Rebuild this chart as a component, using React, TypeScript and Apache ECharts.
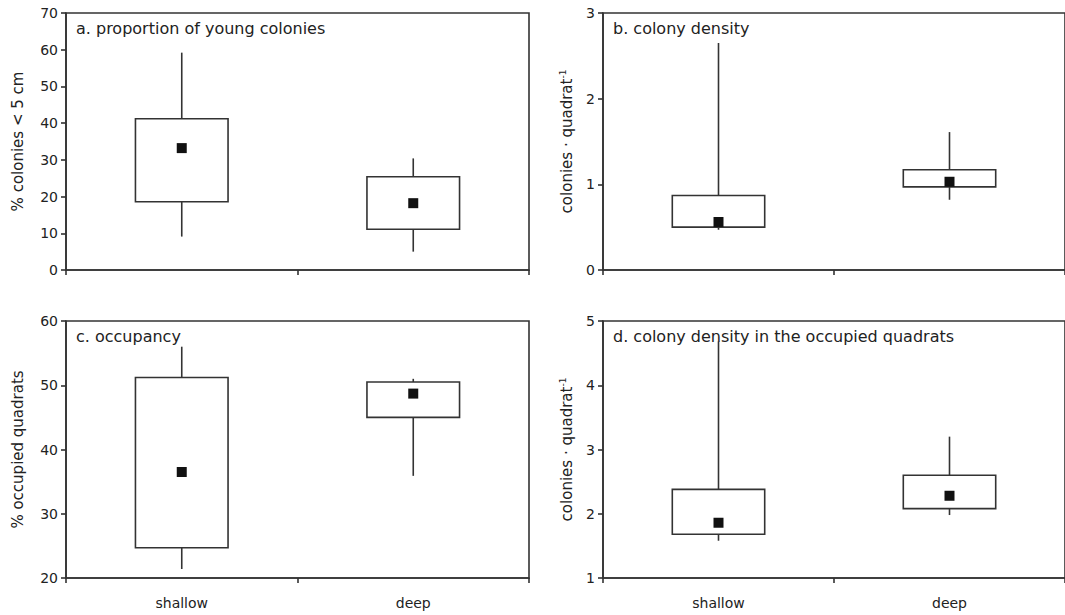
import React, { useEffect, useRef } from "react";
import * as echarts from "echarts";

// Depth groups shared by all four panels
const CATEGORIES = ["shallow", "deep"];

// Box values per group: [min, q1, q3, max]; means drawn as filled squares
const youngBox = [
  [9.1, 18.6, 41.2, 59.2],
  [5.0, 11.1, 25.4, 30.4],
];
const youngMean = [33.2, 18.2];

const densityBox = [
  [0.47, 0.5, 0.87, 2.65],
  [0.82, 0.97, 1.17, 1.61],
];
const densityMean = [0.56, 1.03];

const occupancyBox = [
  [21.4, 24.7, 51.2, 56.0],
  [35.9, 45.0, 50.5, 51.0],
];
const occupancyMean = [36.5, 48.7];

const occupiedDensityBox = [
  [1.58, 1.68, 2.38, 4.68],
  [1.98, 2.08, 2.6, 3.2],
];
const occupiedDensityMean = [1.86, 2.28];

// Axis ranges [min, max, interval]
const youngRange = [0, 70, 10];
const densityRange = [0, 3, 1];
const occupancyRange = [20, 60, 10];
const occupiedDensityRange = [1, 5, 1];

const FONT = "DejaVu Sans";
const INK = "#222";
const LINE = "#333";

const panels = [
  {
    title: "a. proportion of young colonies",
    yName: "% colonies < 5 cm",
    box: youngBox,
    mean: youngMean,
    range: youngRange,
    grid: { left: 66, top: 13, width: 463, height: 257 },
    nameGap: 41,
    xLabels: false,
  },
  {
    title: "b. colony density",
    yName: "{n|colonies · quadrat}{s|-1}",
    box: densityBox,
    mean: densityMean,
    range: densityRange,
    grid: { left: 603, top: 13, width: 463, height: 257 },
    nameGap: 27,
    xLabels: false,
  },
  {
    title: "c. occupancy",
    yName: "% occupied quadrats",
    box: occupancyBox,
    mean: occupancyMean,
    range: occupancyRange,
    grid: { left: 66, top: 321, width: 463, height: 257 },
    nameGap: 41,
    xLabels: true,
  },
  {
    title: "d. colony density in the occupied quadrats",
    yName: "{n|colonies · quadrat}{s|-1}",
    box: occupiedDensityBox,
    mean: occupiedDensityMean,
    range: occupiedDensityRange,
    grid: { left: 603, top: 321, width: 463, height: 257 },
    nameGap: 27,
    xLabels: true,
  },
];

function renderBox(params: any, api: any) {
  const idx = api.value(0);
  const min = api.coord([idx, api.value(1)]);
  const q1 = api.coord([idx, api.value(2)]);
  const q3 = api.coord([idx, api.value(3)]);
  const max = api.coord([idx, api.value(4)]);
  const band = api.size([1, 0])[0];
  const w = band * 0.4;
  const x = min[0];
  const lineStyle = { stroke: LINE, lineWidth: 1.6 };
  return {
    type: "group",
    children: [
      {
        type: "line",
        shape: { x1: x, y1: max[1], x2: x, y2: q3[1] },
        style: lineStyle,
      },
      {
        type: "line",
        shape: { x1: x, y1: q1[1], x2: x, y2: min[1] },
        style: lineStyle,
      },
      {
        type: "rect",
        shape: { x: x - w / 2, y: q3[1], width: w, height: q1[1] - q3[1] },
        style: { fill: "#fff", stroke: LINE, lineWidth: 1.6 },
      },
    ],
  };
}

export default function App() {
  const ref = useRef<HTMLDivElement>(null);

  useEffect(() => {
    if (!ref.current) return;
    const chart = echarts.init(ref.current, null, { renderer: "svg" });

    const grids: any[] = [];
    const xAxes: any[] = [];
    const yAxes: any[] = [];
    const series: any[] = [];
    const graphics: any[] = [];

    panels.forEach((p, i) => {
      grids.push({
        ...p.grid,
        show: true,
        borderColor: LINE,
        borderWidth: 1.6,
        backgroundColor: "transparent",
        containLabel: false,
      });
      xAxes.push({
        type: "category",
        gridIndex: i,
        data: CATEGORIES,
        boundaryGap: true,
        axisLine: { lineStyle: { color: LINE, width: 1.6 } },
        axisTick: { show: true, length: 5, lineStyle: { color: LINE, width: 1.6 } },
        axisLabel: {
          show: p.xLabels,
          color: INK,
          fontFamily: FONT,
          fontSize: 14,
          margin: 18,
        },
        splitLine: { show: false },
      });
      yAxes.push({
        type: "value",
        gridIndex: i,
        min: p.range[0],
        max: p.range[1],
        interval: p.range[2],
        name: p.yName,
        nameLocation: "middle",
        nameGap: p.nameGap,
        nameRotate: 90,
        nameTextStyle: {
          color: INK,
          fontFamily: FONT,
          fontSize: 15,
          rich: {
            n: { fontFamily: FONT, fontSize: 15, color: INK, lineHeight: 18 },
            s: {
              fontFamily: FONT,
              fontSize: 9,
              color: INK,
              lineHeight: 18,
              verticalAlign: "top",
            },
          },
        },
        axisLine: { show: true, lineStyle: { color: LINE, width: 1.6 } },
        axisTick: { show: true, length: 5, lineStyle: { color: LINE, width: 1.6 } },
        axisLabel: { color: INK, fontFamily: FONT, fontSize: 14, margin: 8 },
        splitLine: { show: false },
      });
      series.push({
        type: "custom",
        xAxisIndex: i,
        yAxisIndex: i,
        renderItem: renderBox,
        encode: { x: 0, y: [1, 2, 3, 4] },
        data: p.box.map((b, k) => [k, ...b]),
        z: 2,
      });
      series.push({
        type: "scatter",
        xAxisIndex: i,
        yAxisIndex: i,
        symbol: "rect",
        symbolSize: 10,
        itemStyle: { color: "#111", opacity: 1 },
        data: p.mean.map((m, k) => [k, m]),
        z: 3,
      });
      graphics.push({
        type: "text",
        x: p.grid.left + 10,
        y: p.grid.top + 15,
        style: {
          text: p.title,
          fill: INK,
          font: `16px "${FONT}"`,
          textVerticalAlign: "middle",
        },
        z: 10,
      });
    });

    chart.setOption({
      animation: false,
      backgroundColor: "#fff",
      grid: grids,
      xAxis: xAxes,
      yAxis: yAxes,
      series,
      graphic: graphics,
    });

    return () => chart.dispose();
  }, []);

  return (
    <div
      ref={ref}
      style={{ position: "absolute", left: 0, top: 0, width: 1065, height: 615 }}
    />
  );
}
